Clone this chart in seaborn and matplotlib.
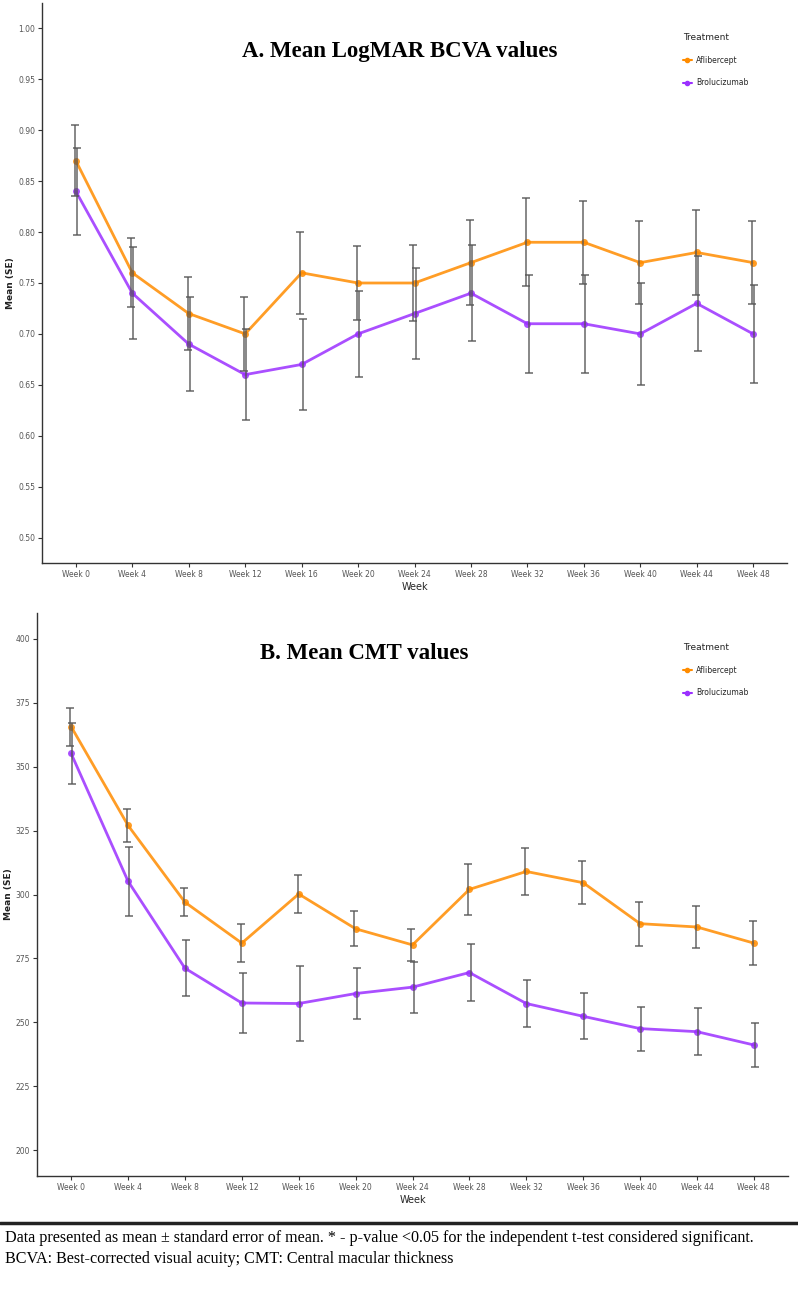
import numpy as np
import pandas as pd
import matplotlib
matplotlib.use("Agg")
import matplotlib.pyplot as plt
import seaborn as sns

# data
weeks = ["Week 0", "Week 4", "Week 8", "Week 12", "Week 16", "Week 20", "Week 24",
         "Week 28", "Week 32", "Week 36", "Week 40", "Week 44", "Week 48"]
treatments = ["Aflibercept", "Brolucizumab"]

bcva_afli = [0.87, 0.76, 0.72, 0.70, 0.76, 0.75, 0.75, 0.77, 0.79, 0.79, 0.77, 0.78, 0.77]
bcva_afli_se = [0.035, 0.034, 0.036, 0.036, 0.040, 0.036, 0.037, 0.042, 0.043, 0.041, 0.041, 0.042, 0.041]
bcva_brolu = [0.84, 0.74, 0.69, 0.66, 0.67, 0.70, 0.72, 0.74, 0.71, 0.71, 0.70, 0.73, 0.70]
bcva_brolu_se = [0.043, 0.045, 0.046, 0.045, 0.045, 0.042, 0.045, 0.047, 0.048, 0.048, 0.050, 0.047, 0.048]

cmt_afli = [365.6, 327.0, 297.0, 281.0, 300.2, 286.6, 280.3, 302.0, 309.0, 304.6, 288.6, 287.3, 281.0]
cmt_afli_se = [7.4, 6.3, 5.5, 7.5, 7.4, 6.8, 6.4, 10.0, 9.2, 8.4, 8.6, 8.2, 8.6]
cmt_brolu = [355.1, 305.2, 271.2, 257.6, 257.4, 261.3, 263.8, 269.5, 257.4, 252.4, 247.6, 246.4, 241.2]
cmt_brolu_se = [12.0, 13.5, 11.0, 11.8, 14.7, 9.8, 10.0, 11.3, 9.0, 9.0, 8.6, 9.2, 8.6]

colors = {"Aflibercept": "#FF8C00", "Brolucizumab": "#9B30FF"}

sns.set_theme(style="white")
plt.rcParams['font.family'] = ['DejaVu Sans']

W, H = 798, 1299
fig = plt.figure(figsize=(W / 100, H / 100), dpi=100)


def frame(df_mean, df_se, title, ylim, yticks, yfmt, box, title_x, title_y, leg_y):
    left, top, right, bottom = box
    ax = fig.add_axes([left / W, 1 - bottom / H, (right - left) / W, (bottom - top) / H])
    rows = []
    for t, m, s in zip(treatments, df_mean, df_se):
        for i, wk in enumerate(weeks):
            rows.append({"Week": wk, "pos": i, "Treatment": t, "mean": m[i], "se": s[i]})
    df = pd.DataFrame(rows)

    sns.lineplot(data=df, x="pos", y="mean", hue="Treatment", palette=colors,
                 marker="o", markersize=5, markeredgewidth=0, linewidth=2,
                 alpha=0.85, ax=ax, legend=False)
    for t, off in zip(treatments, [-0.02, 0.02]):
        d = df[df["Treatment"] == t]
        ax.errorbar(d["pos"] + off, d["mean"], yerr=d["se"], fmt="none",
                    ecolor="#555555", alpha=0.7, elinewidth=1.4, capsize=3.2,
                    capthick=1.4, zorder=3)

    ax.set_xlim(-0.6, len(weeks) - 1 + 0.6)
    ax.set_ylim(*ylim)
    ax.set_xticks(range(len(weeks)))
    ax.set_xticklabels(weeks, fontsize=5.5, color="#555555")
    ax.set_yticks(yticks)
    ax.set_yticklabels([yfmt.format(v) for v in yticks], fontsize=5.5, color="#555555")
    ax.tick_params(axis="both", length=3, width=0.8, color="#333333", pad=2, direction="out")
    ax.tick_params(left=True, bottom=True)
    for s in ["top", "right"]:
        ax.spines[s].set_visible(False)
    for s in ["left", "bottom"]:
        ax.spines[s].set_color("#333333")
        ax.spines[s].set_linewidth(1.0)
    ax.set_xlabel("Week", fontsize=7, labelpad=2)
    ax.set_ylabel("Mean (SE)", fontsize=6.5, fontweight="bold", color="#222222", labelpad=2)

    fig.text(title_x / W, 1 - title_y / H, title, family="Liberation Serif",
             fontweight="bold", fontsize=16.5, color="black", ha="center", va="center")

    handles = [plt.Line2D([], [], color=colors[t], marker="o", markersize=3,
                          linewidth=1.5) for t in treatments]
    fig.legend(handles, treatments, title="Treatment", loc="upper left",
               bbox_to_anchor=(676 / W, 1 - leg_y / H), frameon=False,
               fontsize=5.5, title_fontsize=6.5, handlelength=1.2,
               handletextpad=0.5, labelspacing=1.8, alignment="left")
    return ax


frame([bcva_afli, bcva_brolu], [bcva_afli_se, bcva_brolu_se],
      "A. Mean LogMAR BCVA values", (0.475, 1.025),
      [0.50, 0.55, 0.60, 0.65, 0.70, 0.75, 0.80, 0.85, 0.90, 0.95, 1.00], "{:.2f}",
      (42, 3, 787, 563), 400, 52, 26)

frame([cmt_afli, cmt_brolu], [cmt_afli_se, cmt_brolu_se],
      "B. Mean CMT values", (190, 410),
      [200, 225, 250, 275, 300, 325, 350, 375, 400], "{:.0f}",
      (37, 613, 788, 1176), 364, 653, 636)

fig.add_artist(plt.Line2D([0, 1], [1 - 1223 / H, 1 - 1223 / H], color="#222222",
                          linewidth=2.5, transform=fig.transFigure))
fig.text(5 / W, 1 - 1238 / H,
         "Data presented as mean \u00b1 standard error of mean. * - p-value <0.05 for the independent t-test considered significant.",
         family="Liberation Serif", fontsize=11.6, color="black", va="center", ha="left")
fig.text(5 / W, 1 - 1259 / H,
         "BCVA: Best-corrected visual acuity; CMT: Central macular thickness",
         family="Liberation Serif", fontsize=11.6, color="black", va="center", ha="left")

fig.savefig("out.png", dpi=100)
